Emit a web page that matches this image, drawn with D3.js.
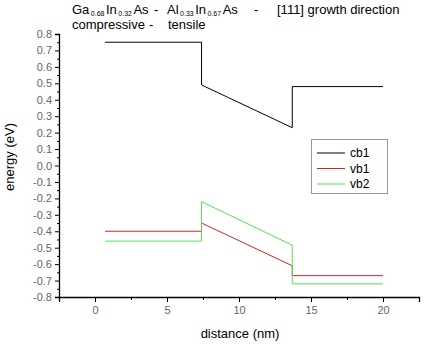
<!DOCTYPE html>
<html><head><meta charset="utf-8">
<script src="https://cdn.jsdelivr.net/npm/d3@7"></script>
<style>body{margin:0;background:#fff}svg{display:block;font-family:Arial,"Liberation Sans",sans-serif}</style>
</head><body><svg id="c" width="427" height="344"></svg>
<script>
const cb1X = [0.7, 7.4, 7.4, 13.7, 13.7, 20.0];
const cb1Y = [0.75, 0.75, 0.49, 0.23, 0.48, 0.48];
const vb1X = [0.7, 7.4, 7.4, 13.7, 13.7, 20.0];
const vb1Y = [-0.40, -0.40, -0.35, -0.61, -0.67, -0.67];
const vb2X = [0.7, 7.4, 7.4, 13.7, 13.7, 20.0];
const vb2Y = [-0.46, -0.46, -0.22, -0.485, -0.72, -0.72];
const seriesNames = ["cb1", "vb1", "vb2"];
const seriesColors = ["#000000", "#dd2222", "#55e055"];
const xTicks = [0, 5, 10, 15, 20];
const yTicks = [0.8,0.7,0.6,0.5,0.4,0.3,0.2,0.1,0.0,-0.1,-0.2,-0.3,-0.4,-0.5,-0.6,-0.7,-0.8];

const svg = d3.select("#c");
const x = d3.scaleLinear().domain([-2.5, 22.5]).range([59, 419]);
const y = d3.scaleLinear().domain([-0.8, 0.8]).range([297, 34]);

// axes
const yAxis = d3.axisLeft(y).tickValues(yTicks).tickSize(4).tickPadding(3);
const gy = svg.append("g").attr("transform","translate(59,0)").call(yAxis);
const yMinor = d3.axisLeft(y).tickValues(d3.range(-0.75, 0.8, 0.1)).tickSize(2).tickFormat("");
svg.append("g").attr("transform","translate(59,0)").call(yMinor).select(".domain").remove();

const xAxis = d3.axisBottom(x).tickValues(xTicks).tickSize(5).tickPadding(4);
const gx = svg.append("g").attr("transform","translate(0,297)").call(xAxis);
const xMinor = d3.axisBottom(x).tickValues([-2.5,2.5,7.5,12.5,17.5,22.5]).tickSize(3).tickFormat("");
svg.append("g").attr("transform","translate(0,297)").call(xMinor).select(".domain").remove();

svg.selectAll(".domain").attr("stroke","#000").attr("stroke-width",1.3);
svg.selectAll(".tick line").attr("stroke","#000");
svg.selectAll(".tick text").attr("fill","#666").attr("font-size",11).attr("font-family","Arial, Liberation Sans, sans-serif");
gy.selectAll(".tick text").text(d => (d < -1e-9 ? "-" : "") + Math.abs(d).toFixed(1));

// lines
const line = d3.line();
const data = [[cb1X,cb1Y],[vb1X,vb1Y],[vb2X,vb2Y]];
data.forEach((s,i) => {
  const pts = s[0].map((v,j) => [x(v), y(s[1][j])]);
  svg.append("path").attr("d", line(pts)).attr("fill","none")
    .attr("stroke", seriesColors[i]).attr("stroke-width", 1);
});

// legend
const lg = svg.append("g");
lg.append("rect").attr("x",311.5).attr("y",139.5).attr("width",76).attr("height",54)
  .attr("fill","#fff").attr("stroke","#999").attr("stroke-width",1);
seriesNames.forEach((n,i) => {
  const yy = 153 + i*15.5;
  lg.append("line").attr("x1",317).attr("x2",345).attr("y1",yy).attr("y2",yy)
    .attr("stroke",seriesColors[i]).attr("stroke-width",1);
  lg.append("text").attr("x",350).attr("y",yy+4).attr("font-size",12).attr("fill","#000").text(n);
});

// axis titles
svg.append("text").attr("x",240).attr("y",338).attr("text-anchor","middle").attr("font-size",13).text("distance (nm)");
svg.append("text").attr("transform","translate(14,157) rotate(-90)").attr("text-anchor","middle").attr("font-size",13).text("energy (eV)");

// title: base text + subscripts as separate pieces, laid out sequentially
function runLine(parts, x0, yb){
  let cx = x0;
  parts.forEach(p => {
    if (p.x !== undefined) cx = p.x;
    const t = svg.append("text").attr("x",cx).attr("y", p.sub ? yb+2 : yb)
      .attr("font-size", p.sub ? 7 : 13).attr("fill","#000").text(p.t);
    cx += t.node().getComputedTextLength() + 1.5;
  });
}
runLine([{t:"Ga"},{t:"0.68",sub:1},{t:"In"},{t:"0.32",sub:1},{t:"As"},
         {t:"-",x:154},{t:"Al",x:167},{t:"0.33",sub:1},{t:"In"},{t:"0.67",sub:1},{t:"As"},
         {t:"-",x:254},{t:"[111] growth direction",x:277}], 72, 14);
runLine([{t:"compressive"},{t:"-",x:149},{t:"tensile",x:168}], 72, 29);
</script></body></html>
